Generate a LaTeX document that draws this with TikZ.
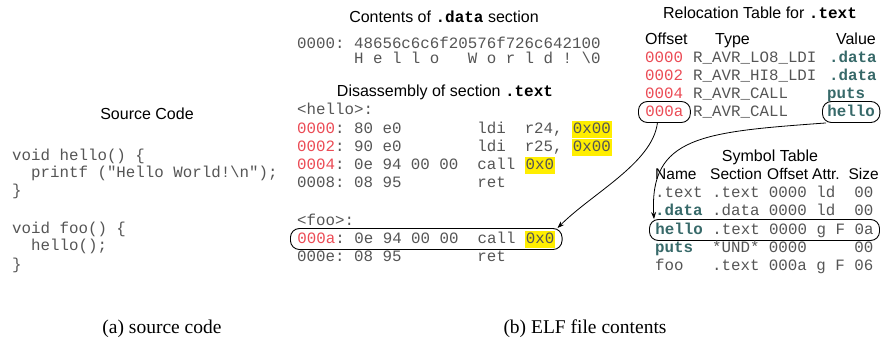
\documentclass[tikz,border=0pt]{standalone}
\usepackage{fontspec}
\setmainfont{Liberation Sans}
\setmonofont{Liberation Mono}
\newfontfamily\capfont{Liberation Serif}
\usepackage{xcolor}
\usepackage{tikz}
\usetikzlibrary{
  arrows.meta,
  positioning
}
\definecolor{addrred}{RGB}{235, 75, 85}
\definecolor{symteal}{RGB}{55, 105, 105}
\definecolor{codegray}{RGB}{85, 85, 85}
\definecolor{hlyellow}{RGB}{255, 238, 0}
\newcommand{\addr}[1]{\textcolor{addrred}{#1}}
\newcommand{\symb}[1]{\textcolor{symteal}{\textbf{#1}}}
\newcommand{\hl}[1]{{\setlength{\fboxsep}{0.8pt}\colorbox{hlyellow}{\rule[-4pt]{0pt}{15pt}#1}}}

\begin{document}
\begin{tikzpicture}[x=1pt, y=-1pt,
  head/.style={font=\fontsize{16}{18}\selectfont, inner sep=0pt, anchor=base},
  code/.style={font=\fontsize{15.8}{18}\ttfamily, text=codegray, inner sep=0pt, anchor=base west},
  ring/.style={draw=black, line width=0.9pt, rounded corners=9pt, inner xsep=7pt, inner ysep=3pt, text height=11.5pt, text depth=3.5pt},
  link/.style={-{Stealth[length=7pt, width=5pt]}, line width=0.8pt},
  caption/.style={font=\capfont\fontsize{19.5}{22}\selectfont, inner sep=0pt, anchor=base}]
  \useasboundingbox (0, 0) rectangle (881, 340);
  % source code
  \node[head] (srctitle) at (147, 119) {Source Code};
  \node[code] (src1) at (12, 160) {void hello() \{};
  \node[code] (src2) at (12, 177) {\ \ printf (\textquotedbl Hello World!\textbackslash n\textquotedbl);};
  \node[code] (src3) at (12, 195) {\}};
  \node[code] (src4) at (12, 233) {void foo() \{};
  \node[code] (src5) at (12, 250) {\ \ hello();};
  \node[code] (src6) at (12, 269) {\}};
  % .data contents
  \node[head] (datatitle) at (444, 22) {Contents of \texttt{\textbf{.data}} section};
  \node[code] (dat1) at (297, 48) {0000: 48656c6c6f20576f726c642100};
  \node[code] (dat2) at (297, 63) {\ \ \ \ \ \ H e l l o\ \ \ W o r l d ! \textbackslash0};
  % disassembly
  \node[head] (distitle) at (445, 96) {Disassembly of section \texttt{\textbf{.text}}};
  \node[code] (dis1) at (297, 114) {<hello>:};
  \node[code] (dis2) at (297, 133) {\addr{0000}: 80 e0\ \ \ \ \ \ \ \ ldi\ \ r24,\ \hl{0x00}};
  \node[code] (dis3) at (297, 151) {\addr{0002}: 90 e0\ \ \ \ \ \ \ \ ldi\ \ r25,\ \hl{0x00}};
  \node[code] (dis4) at (297, 169) {\addr{0004}: 0e 94 00 00\ \ call\ \hl{0x0}};
  \node[code] (dis5) at (297, 187) {0008: 08 95\ \ \ \ \ \ \ \ ret};
  \node[code] (dis6) at (297, 225) {<foo>:};
  \node[code, ring] (dis7) at (290, 243) {\addr{000a}: 0e 94 00 00\ \ call\ \hl{0x0}};
  \node[code] (dis8) at (297, 261) {000e: 08 95\ \ \ \ \ \ \ \ ret};
  % relocation table
  \node[head] (reltitle) at (760, 19) {Relocation Table for \texttt{\textbf{.text}}};
  \node[head, anchor=base west] (rhoff) at (645, 44) {Offset};
  \node[head, anchor=base west] (rhtyp) at (715, 44) {Type};
  \node[head, anchor=base east] (rhval) at (876, 44) {Value};
  \node[code] (roff1) at (645, 62) {\addr{0000}};
  \node[code] (roff2) at (645, 80) {\addr{0002}};
  \node[code] (roff3) at (645, 98) {\addr{0004}};
  \node[code, ring] (roff4) at (638, 116) {\addr{000a}};
  \node[code] (rtyp1) at (693, 62) {R\_AVR\_LO8\_LDI};
  \node[code] (rtyp2) at (693, 80) {R\_AVR\_HI8\_LDI};
  \node[code] (rtyp3) at (693, 98) {R\_AVR\_CALL};
  \node[code] (rtyp4) at (693, 116) {R\_AVR\_CALL};
  \node[code] (rval1) at (829, 62) {\symb{.data}};
  \node[code] (rval2) at (829, 80) {\symb{.data}};
  \node[code] (rval3) at (827, 98) {\symb{puts}};
  \node[code, ring, inner xsep=5pt] (rval4) at (822, 116) {\symb{hello}};
  % symbol table
  \node[head] (symtitle) at (770, 161) {Symbol Table};
  \node[head, anchor=base west, font=\fontsize{15.5}{18}\selectfont] (shname) at (655, 179) {Name};
  \node[head, anchor=base west, font=\fontsize{15.5}{18}\selectfont] (shsec) at (710, 179) {Section};
  \node[head, anchor=base west, font=\fontsize{15.5}{18}\selectfont] (shoff) at (767, 179) {Offset};
  \node[head, anchor=base west, font=\fontsize{15.5}{18}\selectfont] (shattr) at (812, 179) {Attr.};
  \node[head, anchor=base east, font=\fontsize{15.5}{18}\selectfont] (shsize) at (879, 179) {Size};
  \node[code] (sym1) at (655, 197) {.text\ .text\ 0000\ ld\ \ 00};
  \node[code] (sym2) at (655, 215) {\symb{.data}\ .data\ 0000\ ld\ \ 00};
  \node[code, ring, inner xsep=6pt] (sym3) at (649, 234) {\symb{hello}\ .text\ 0000\ g\ F\ 0a};
  \node[code] (sym4) at (655, 252) {\symb{puts}\ \ *UND*\ 0000\ \ \ \ \ 00};
  \node[code] (sym5) at (655, 270) {foo\ \ \ .text\ 000a\ g\ F\ 06};
  % relocation links
  \draw[link] ([xshift=-7pt]roff4.south) .. controls +(-5, 40) and +(35, -35) .. ([xshift=-5pt]dis7.north east);
  \draw[link] ([xshift=4pt]rval4.south west) .. controls +(-123, 9) and +(-5, -83) .. ([xshift=5pt]sym3.north west);
  % captions
  \node[caption] (capa) at (162, 333) {(a) source code};
  \node[caption] (capb) at (585, 333) {(b) ELF file contents};
\end{tikzpicture}
\end{document}
